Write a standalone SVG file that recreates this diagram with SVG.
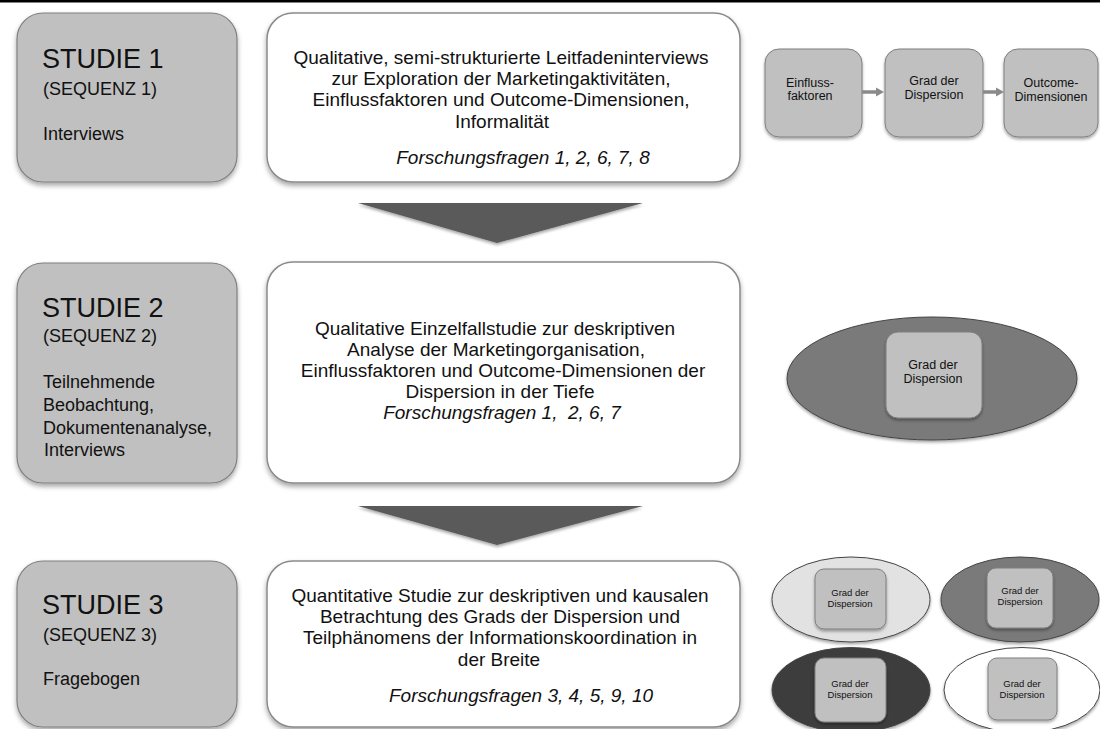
<svg xmlns="http://www.w3.org/2000/svg" width="1100" height="729" viewBox="0 0 1100 729">
  <defs>
    <filter id="shadow" x="-10%" y="-10%" width="120%" height="130%">
      <feDropShadow dx="0" dy="3" stdDeviation="2.5" flood-color="#000" flood-opacity="0.35"/>
    </filter>
    <filter id="shadowSmall" x="-15%" y="-15%" width="130%" height="140%">
      <feDropShadow dx="0" dy="2" stdDeviation="1.5" flood-color="#000" flood-opacity="0.35"/>
    </filter>
    <style>
      text { font-family: "Liberation Sans", Arial, sans-serif; fill: #111111; }
      .study { fill: #c0c0c0; stroke: #7f7f7f; stroke-width: 1.2; filter: url(#shadow); }
      .desc { fill: #ffffff; stroke: #8a8a8a; stroke-width: 1.5; filter: url(#shadow); }
      .title { font-size: 27px; }
      .seq { font-size: 18px; }
      .method { font-size: 18px; }
      .body { font-size: 19px; text-anchor: middle; }
      .rq { font-size: 19px; font-style: italic; text-anchor: middle; white-space: pre; }
      .mini { fill: #c0c0c0; stroke: #7f7f7f; stroke-width: 1; filter: url(#shadowSmall); }
      .minitext { font-size: 12.5px; text-anchor: middle; }
      .tinytext { font-size: 9.5px; text-anchor: middle; }
      .ell { stroke: #444; stroke-width: 1; filter: url(#shadowSmall); }
      .bigarrow { fill: #5a5a5a; filter: url(#shadowSmall); }
      .flow { stroke: #8a8a8a; stroke-width: 3.5; fill: none; }
      .flowhead { fill: #8a8a8a; }
    </style>
  </defs>

  <rect width="1100" height="729" fill="#ffffff"/>
  <!-- top rule -->
  <line x1="0" y1="1.3" x2="1100" y2="1.3" stroke="#000" stroke-width="2.6"/>

  <!-- Row 1 -->
  <g id="studie1">
    <rect class="study" x="17" y="13" width="220" height="169" rx="26"/>
    <text class="title" x="42" y="68">STUDIE 1</text>
    <text class="seq" x="43" y="95">(SEQUENZ 1)</text>
    <text class="method" x="43" y="140">Interviews</text>
  </g>

  <g id="beschreibung1">
    <rect class="desc" x="267" y="13" width="473" height="169" rx="26"/>
    <text class="body" x="501" y="64">Qualitative, semi-strukturierte Leitfadeninterviews</text>
    <text class="body" x="501" y="85">zur Exploration der Marketingaktivitäten,</text>
    <text class="body" x="501" y="106">Einflussfaktoren und Outcome-Dimensionen,</text>
    <text class="body" x="502" y="128">Informalität</text>
    <text class="rq" x="523" y="164">Forschungsfragen 1, 2, 6, 7, 8</text>
  </g>

  <g id="modell-einfluss">
    <rect class="mini" x="765" y="49" width="97" height="88" rx="14"/>
    <text class="minitext" x="810" y="87">Einfluss-</text>
    <text class="minitext" x="810" y="100">faktoren</text>
  </g>
  <g id="modell-grad">
    <rect class="mini" x="885" y="49" width="98" height="88" rx="14"/>
    <text class="minitext" x="934" y="85">Grad der</text>
    <text class="minitext" x="934" y="99">Dispersion</text>
  </g>
  <g id="modell-outcome">
    <rect class="mini" x="1004" y="49" width="94" height="88" rx="14"/>
    <text class="minitext" x="1051" y="87">Outcome-</text>
    <text class="minitext" x="1051" y="101">Dimensionen</text>
  </g>

  <!-- Row 2 -->
  <g id="studie2">
    <rect class="study" x="17" y="263" width="220" height="220" rx="26"/>
    <text class="title" x="42" y="317">STUDIE 2</text>
    <text class="seq" x="43" y="342">(SEQUENZ 2)</text>
    <text class="method" x="43" y="388">Teilnehmende</text>
    <text class="method" x="43" y="411">Beobachtung,</text>
    <text class="method" x="43" y="434">Dokumentenanalyse,</text>
    <text class="method" x="44" y="456">Interviews</text>
  </g>

  <g id="beschreibung2">
    <rect class="desc" x="267" y="262" width="473" height="221" rx="26"/>
    <text class="body" x="495" y="335">Qualitative Einzelfallstudie zur deskriptiven</text>
    <text class="body" x="496" y="356">Analyse der Marketingorganisation,</text>
    <text class="body" x="503" y="377">Einflussfaktoren und Outcome-Dimensionen der</text>
    <text class="body" x="500" y="398">Dispersion in der Tiefe</text>
    <text class="rq" x="502" y="419" xml:space="preserve">Forschungsfragen 1,  2, 6, 7</text>
  </g>

  <g id="fall-tiefe">
    <ellipse class="ell" cx="932" cy="378.5" rx="145" ry="61.5" fill="#7a7a7a"/>
    <rect class="mini" x="886" y="332" width="96" height="86" rx="12"/>
    <text class="minitext" x="933" y="369">Grad der</text>
    <text class="minitext" x="933" y="383">Dispersion</text>
  </g>

  <!-- Row 3 -->
  <g id="studie3">
    <rect class="study" x="17" y="561" width="220" height="166" rx="26"/>
    <text class="title" x="42" y="614">STUDIE 3</text>
    <text class="seq" x="43" y="641">(SEQUENZ 3)</text>
    <text class="method" x="43" y="685">Fragebogen</text>
  </g>

  <g id="beschreibung3">
    <rect class="desc" x="267" y="561" width="473" height="166" rx="26"/>
    <text class="body" x="500" y="602">Quantitative Studie zur deskriptiven und kausalen</text>
    <text class="body" x="500" y="623">Betrachtung des Grads der Dispersion und</text>
    <text class="body" x="500" y="644">Teilphänomens der Informationskoordination in</text>
    <text class="body" x="499" y="666">der Breite</text>
    <text class="rq" x="521" y="702">Forschungsfragen 3, 4, 5, 9, 10</text>
  </g>

  <g id="breite-hell">
    <ellipse class="ell" cx="851" cy="599.5" rx="79" ry="42.5" fill="#e2e2e2"/>
    <rect class="mini" x="815" y="569" width="71" height="60" rx="9"/>
    <text class="tinytext" x="850" y="596">Grad der</text>
    <text class="tinytext" x="850" y="607">Dispersion</text>
  </g>
  <g id="breite-mittel">
    <ellipse class="ell" cx="1020" cy="599.5" rx="79" ry="42.5" fill="#7a7a7a"/>
    <rect class="mini" x="987" y="568" width="66" height="60" rx="9"/>
    <text class="tinytext" x="1020" y="594">Grad der</text>
    <text class="tinytext" x="1020" y="605">Dispersion</text>
  </g>
  <g id="breite-dunkel">
    <ellipse class="ell" cx="851" cy="690" rx="79" ry="42.5" fill="#3c3c3c"/>
    <rect class="mini" x="815" y="658" width="71" height="64" rx="9"/>
    <text class="tinytext" x="850" y="687">Grad der</text>
    <text class="tinytext" x="850" y="698">Dispersion</text>
  </g>
  <g id="breite-weiss">
    <ellipse class="ell" cx="1022" cy="690" rx="78" ry="42.5" fill="#ffffff"/>
    <rect class="mini" x="988" y="658" width="69" height="62" rx="9"/>
    <text class="tinytext" x="1022" y="687">Grad der</text>
    <text class="tinytext" x="1022" y="698">Dispersion</text>
  </g>

  <!-- Connectors -->
  <g id="connectors">
    <polygon class="bigarrow" points="358,203 643,203 497,243"/>
    <polygon class="bigarrow" points="358,506 643,506 497,545"/>
    <line class="flow" x1="862" y1="92" x2="878" y2="92"/>
    <polygon class="flowhead" points="876,87.5 884,92 876,96.5"/>
    <line class="flow" x1="983" y1="92" x2="998" y2="92"/>
    <polygon class="flowhead" points="996,87.5 1004,92 996,96.5"/>
  </g>
</svg>
